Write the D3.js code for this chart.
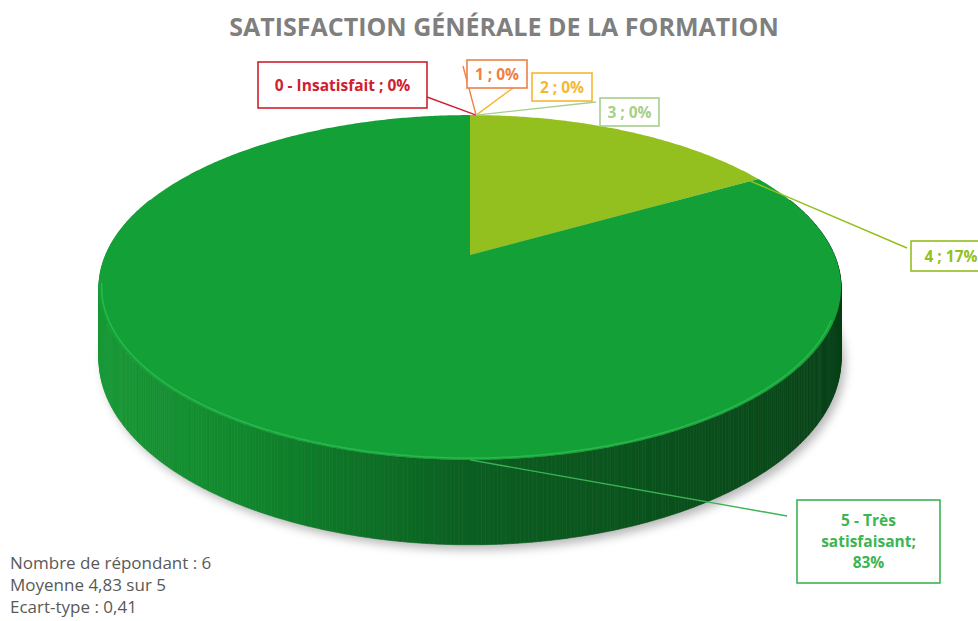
<!DOCTYPE html>
<html>
<head>
<meta charset="utf-8">
<script src="https://cdn.jsdelivr.net/npm/d3@7"></script>
<style>
  body { margin: 0; background: #fff; }
  svg { display: block; font-family: 'Open Sans', sans-serif; }
</style>
</head>
<body>
<div id="chart"></div>
<script>
// data
const categories = ['0 - Insatisfait', '1', '2', '3', '4', '5 - Très satisfaisant']
const counts = [0, 0, 0, 0, 1, 5]
const pctLabels = ['0%', '0%', '0%', '0%', '17%', '83%']
const labelLines = [
  ['0 - Insatisfait ; 0%'],
  ['1 ; 0%'],
  ['2 ; 0%'],
  ['3 ; 0%'],
  ['4 ; 17%'],
  ['5 - Très', 'satisfaisant;', '83%']
]
const statLines = ['Nombre de répondant : 6', 'Moyenne 4,83 sur 5', 'Ecart-type : 0,41']
const title = 'SATISFACTION GÉNÉRALE DE LA FORMATION'

const width = 978, height = 621
const topColors = ['#c00000', '#ed7d31', '#ffc000', '#a9d18e', '#94c01f', '#13a137']
const labelColors = ['#d0202e', '#f07f45', '#f5b731', '#a6d08a', '#93bf1f', '#3cb553']

// label boxes (layout only)
const boxes = [
  {x: 258, y: 62, w: 169, h: 46, lx: 427, ly: 97},
  {x: 467, y: 60, w: 60, h: 28, lx: 463, ly: 66},
  {x: 532, y: 73, w: 60, h: 28, lx: 528, ly: 77},
  {x: 600, y: 98, w: 59, h: 28, lx: 596, ly: 102},
  {x: 911, y: 241, w: 80, h: 30, lx: 907, ly: 248},
  {x: 797, y: 500, w: 143, h: 83, lx: 787, ly: 516}
]

// perspective projection of the pie disk
const cx = 470, cy = 255, D = 5.31, B = 883, F = 1935, H = 366
function proj(theta, r, z) {
  const u = r * Math.sin(theta), v = -r * Math.cos(theta)
  const w = D - v
  return [cx + F * u / w, cy + (B * v + H * z) / w]
}

const svg = d3.select('#chart').append('svg')
  .attr('width', width).attr('height', height)

const defs = svg.append('defs')
defs.append('filter').attr('id', 'shadow')
  .attr('x', '-20%').attr('y', '-20%').attr('width', '140%').attr('height', '140%')
  .append('feGaussianBlur').attr('stdDeviation', 5)

svg.append('text')
  .attr('x', 504).attr('y', 36)
  .attr('text-anchor', 'middle')
  .attr('font-size', 25)
  .attr('font-weight', 'bold')
  .attr('fill', '#7f7f7f')
  .text(title)

const pie = d3.pie().sort(null).value(d => d)
const arcs = pie(counts)
const step = Math.PI / 360

// shadow below the pie
const ring = d3.range(0, 2 * Math.PI + step, step)
svg.append('path')
  .attr('d', d3.line()(ring.map(t => proj(t, 1, 1))) + 'Z')
  .attr('fill', 'rgba(0,0,0,0.28)')
  .attr('transform', 'translate(4,5)')
  .attr('filter', 'url(#shadow)')

// side wall, painted back to front
const sideColor = d3.scaleLinear()
  .domain([-1, -0.55, 0, 0.7, 1])
  .range(['#1a9c37', '#118a2e', '#0b5e21', '#0a4a1a', '#093f18'])
const sideSegs = []
arcs.forEach((a, i) => {
  if (a.endAngle - a.startAngle <= 0) return
  for (let t = a.startAngle; t < a.endAngle; t += step) {
    const t2 = Math.min(t + step, a.endAngle)
    if (Math.cos((t + t2) / 2) > 0.35) continue
    sideSegs.push({t1: t, t2: t2, i: i})
  }
})
sideSegs.sort((a, b) => Math.cos(b.t1) - Math.cos(a.t1))
const segFill = s => s.i === 5 ? sideColor(Math.sin((s.t1 + s.t2) / 2)) : d3.color(topColors[s.i]).darker(1)
svg.append('g').selectAll('path')
  .data(sideSegs)
  .join('path')
  .attr('d', s => d3.line()([proj(s.t1, 1, 0), proj(s.t2, 1, 0), proj(s.t2, 1, 1), proj(s.t1, 1, 1)]) + 'Z')
  .attr('fill', segFill)
  .attr('stroke', segFill)
  .attr('stroke-width', 0.6)

// top face
svg.append('g').selectAll('path')
  .data(arcs.filter(a => a.endAngle > a.startAngle))
  .join('path')
  .attr('d', a => {
    const pts = [proj(0, 0, 0)]
    for (let t = a.startAngle; t < a.endAngle; t += step) pts.push(proj(t, 1, 0))
    pts.push(proj(a.endAngle, 1, 0))
    return d3.line()(pts) + 'Z'
  })
  .attr('fill', a => topColors[a.index])

// light rim along the front edge
const rim = d3.range(Math.PI * 0.62, Math.PI * 1.45, step)
svg.append('path')
  .attr('d', d3.line()(rim.map(t => proj(t, 0.993, 0))))
  .attr('fill', 'none')
  .attr('stroke', '#38c457')
  .attr('stroke-width', 1.5)
  .attr('opacity', 0.65)

// leader lines
function anchor(a) {
  if (a.endAngle - a.startAngle === 0) return proj(a.startAngle + 0.02, 1, 0)
  if (a.index === 4) return proj(a.endAngle, 0.97, 0)
  return proj(Math.PI, 1, 0)
}
svg.append('g').selectAll('line')
  .data(arcs)
  .join('line')
  .attr('x1', a => anchor(a)[0]).attr('y1', a => anchor(a)[1])
  .attr('x2', a => boxes[a.index].lx).attr('y2', a => boxes[a.index].ly)
  .attr('stroke', a => labelColors[a.index])
  .attr('stroke-width', 1.4)

// label boxes
const lab = svg.append('g').selectAll('g')
  .data(arcs)
  .join('g')
lab.append('rect')
  .attr('x', a => boxes[a.index].x).attr('y', a => boxes[a.index].y)
  .attr('width', a => boxes[a.index].w).attr('height', a => boxes[a.index].h)
  .attr('fill', '#fff')
  .attr('stroke', a => labelColors[a.index])
  .attr('stroke-width', 1.6)
lab.each(function(a) {
  const b = boxes[a.index]
  const lines = labelLines[a.index]
  const lh = 21
  const y0 = b.y + b.h / 2 - (lines.length - 1) * lh / 2 + 5.5
  d3.select(this).selectAll('text')
    .data(lines)
    .join('text')
    .attr('x', b.x + b.w / 2)
    .attr('y', (d, j) => y0 + j * lh)
    .attr('text-anchor', 'middle')
    .attr('font-size', 15.5)
    .attr('font-weight', 'bold')
    .attr('fill', labelColors[a.index])
    .text(d => d)
})

// stats text bottom left
svg.append('g').selectAll('text')
  .data(statLines)
  .join('text')
  .attr('x', 10)
  .attr('y', (d, i) => 569 + i * 22)
  .attr('font-size', 17)
  .attr('fill', '#595959')
  .text(d => d)
</script>
</body>
</html>
